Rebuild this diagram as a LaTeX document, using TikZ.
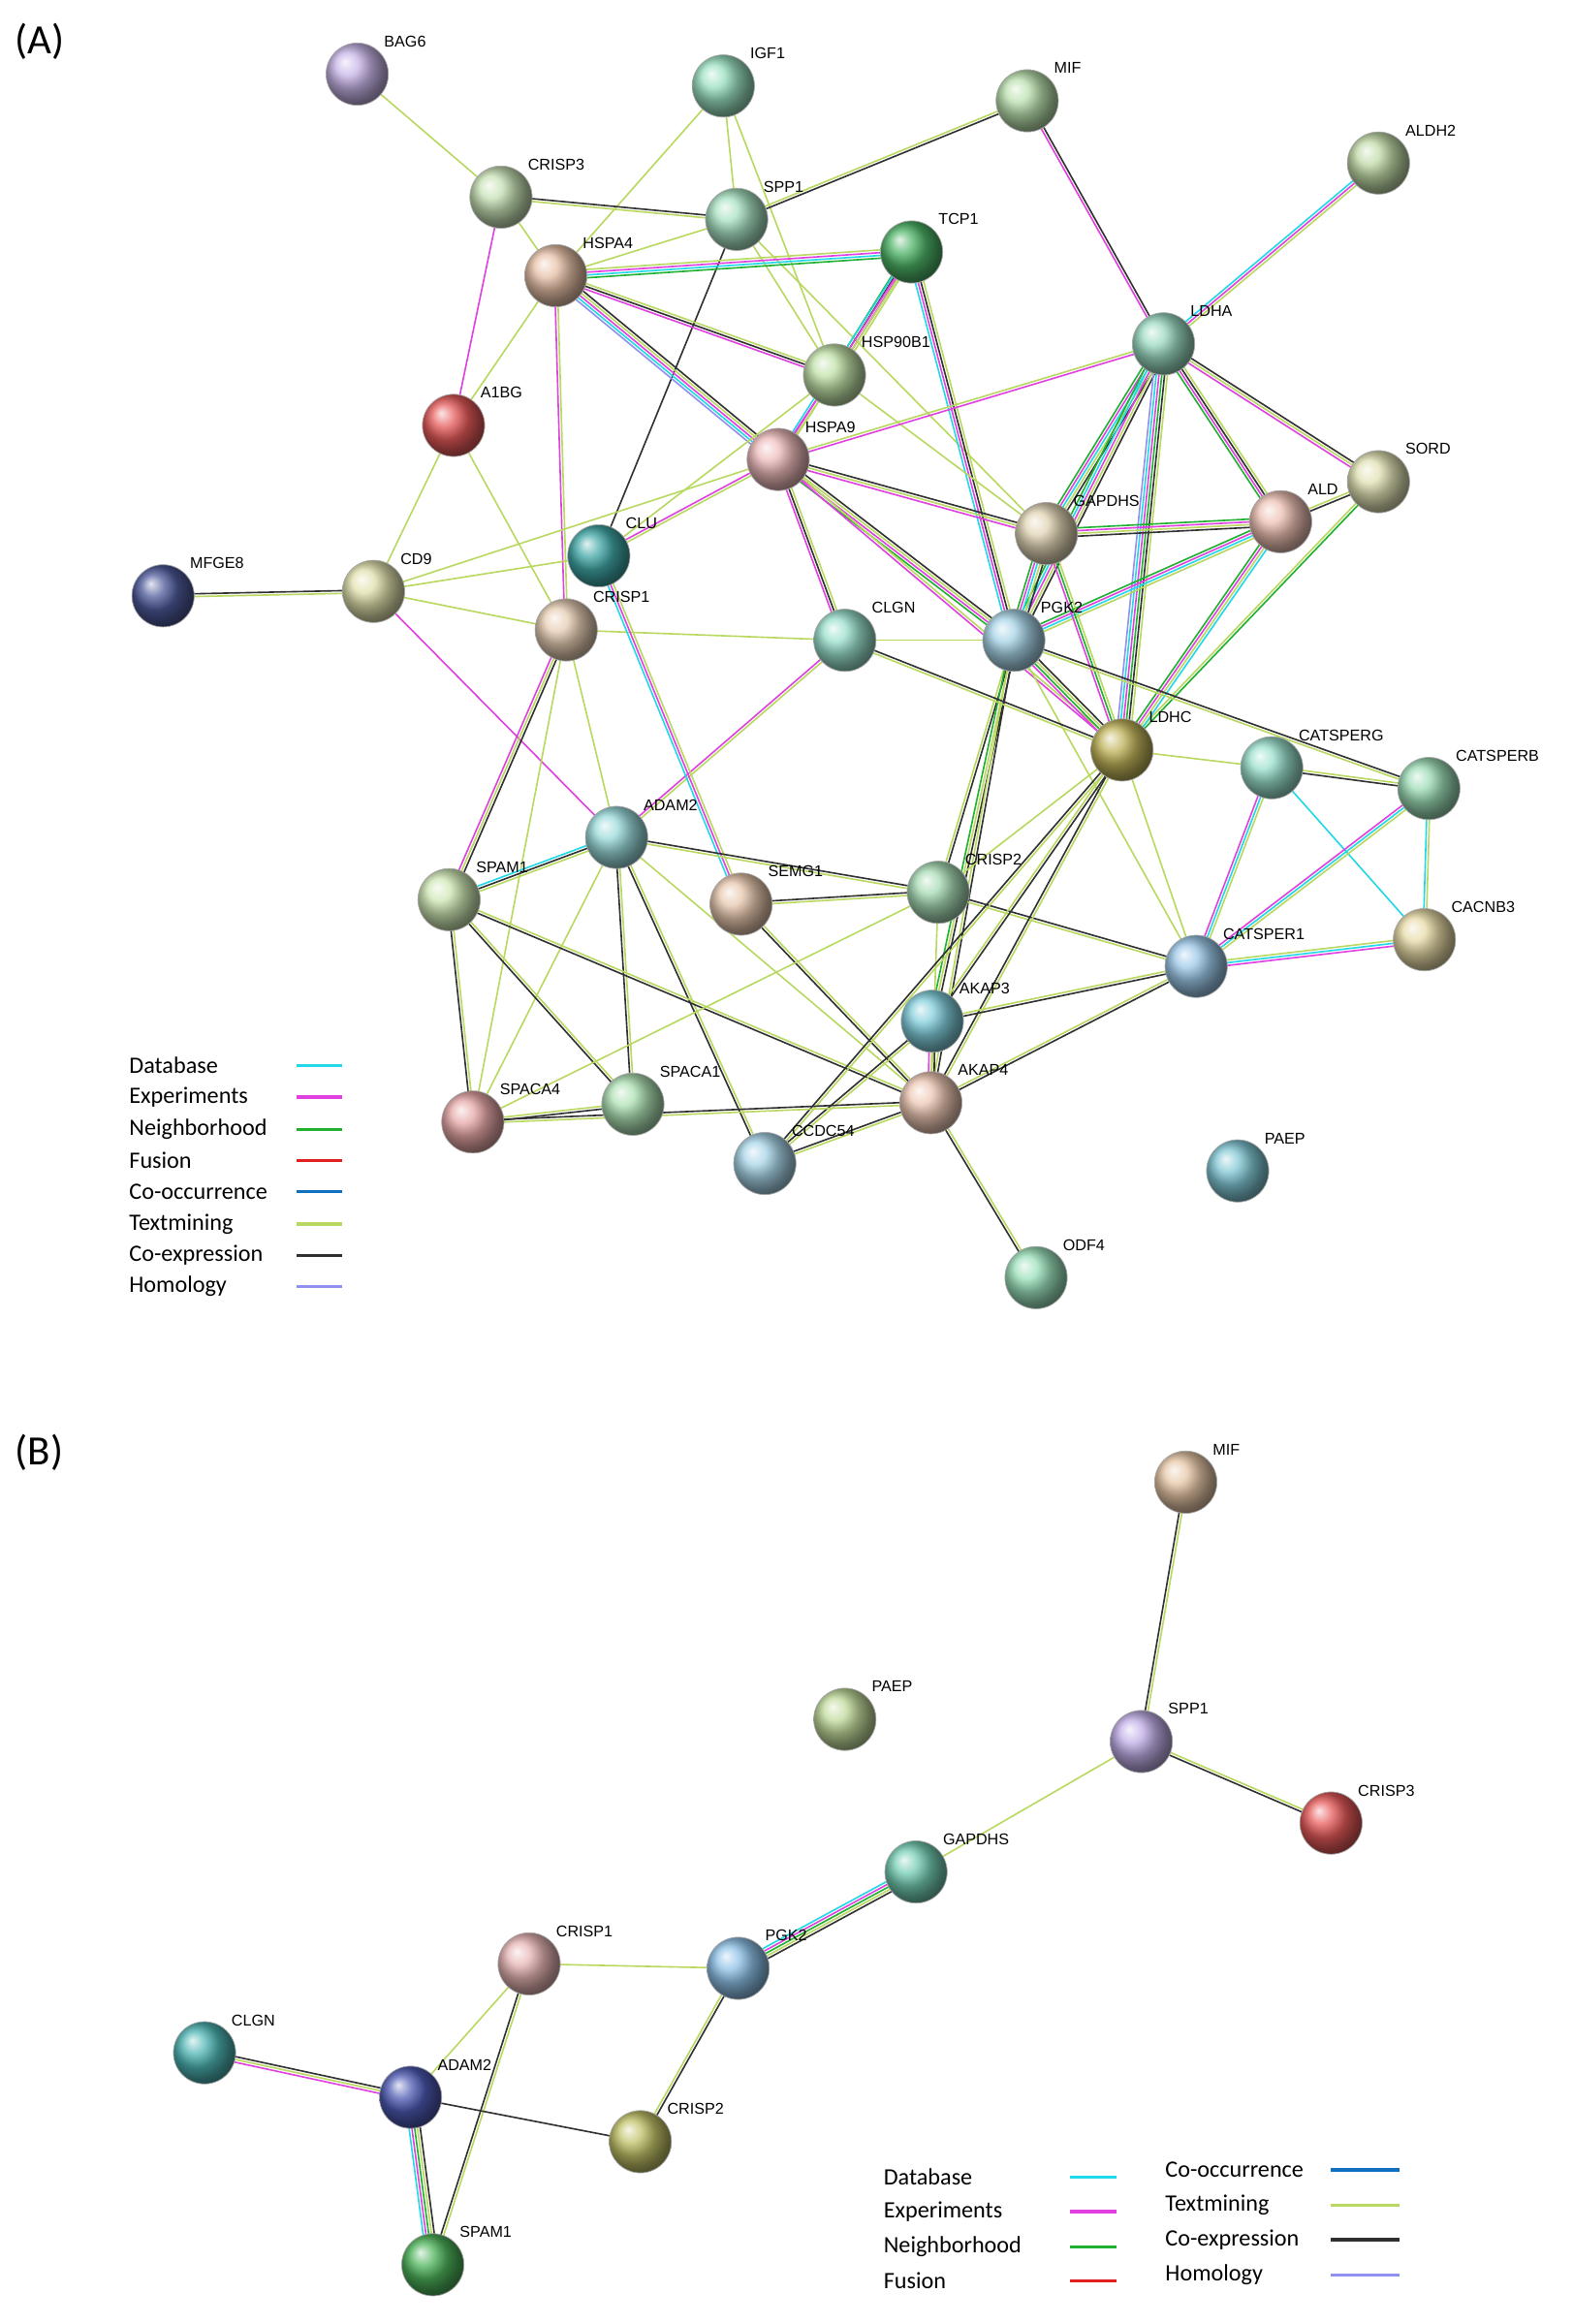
\documentclass[tikz,border=0pt]{standalone}
\usepackage{fontspec}
\setmainfont{Liberation Sans}
\newfontfamily\legf{Carlito}
\usetikzlibrary{calc}
\pgfdeclarelayer{bg}\pgfsetlayers{bg,main}
\definecolor{db}{HTML}{20D8E8}
\definecolor{ex}{HTML}{E040E0}
\definecolor{nb}{HTML}{20B030}
\definecolor{fu}{HTML}{E02020}
\definecolor{co}{HTML}{1070C0}
\definecolor{tm}{HTML}{B8D860}
\definecolor{cx}{HTML}{303030}
\definecolor{ho}{HTML}{9090F0}
\newcount\edcount
\newcommand\ed[3]{\global\edcount=0 \foreach \cc in {#3}{\global\advance\edcount by 1}%
 \foreach \cc [count=\i] in {#3}{\pgfmathsetmacro\off{(\i-(\the\edcount+1)/2)*1.6}%
 \begin{pgfonlayer}{bg}\draw[draw=\cc,line width=0.9pt] ($(#1)!\off pt!90:(#2)$) -- ($(#2)!\off pt!-90:(#1)$);\end{pgfonlayer}}}
\newcommand\pn[5]{\definecolor{c#1}{HTML}{#4}\node[ballnode,ball color=c#1!80!white] (#1) at (#2,#3) {};
 \node[lab] (#1l) at ($(#1)+(18,-22)$) {#5};}
\tikzset{ballnode/.style={circle,minimum size=1.26cm,inner sep=0pt,draw=black!35,line width=0.4pt},
 lab/.style={anchor=west,font=\fontsize{9}{10}\selectfont,inner sep=0pt},
 leg/.style={anchor=west,font=\legf\fontsize{13.5}{14}\selectfont,inner sep=0pt},
 legl/.style={line width=2pt}}
\begin{document}
\begin{tikzpicture}[x=0.03cm,y=-0.03cm]
\useasboundingbox (0,0) rectangle (1061,1568);
\node[leg,font=\legf\fontsize{24}{26}\selectfont] (pA) at (10,28) {(A)};
\node[leg,font=\legf\fontsize{24}{26}\selectfont] (pB) at (10,980) {(B)};
% Panel A nodes
\pn{aBAG6}{241}{50}{B8A0E0}{BAG6}
\pn{aIGF1}{488}{58}{80D8B0}{IGF1}
\pn{aMIF}{693}{68}{A8D898}{MIF}
\pn{aALDH2}{930}{110}{B0D090}{ALDH2}
\pn{aCRISP3}{338}{133}{B8D8A0}{CRISP3}
\pn{aSPP1}{497}{148}{90D8B0}{SPP1}
\pn{aTCP1}{615}{170}{20A040}{TCP1}
\pn{aHSPA4}{375}{186}{E0B090}{HSPA4}
\pn{aLDHA}{785}{232}{80D0B0}{LDHA}
\pn{aHSP90B1}{563}{253}{B0D890}{HSP90B1}
\pn{aA1BG}{306}{287}{E03030}{A1BG}
\pn{aHSPA9}{525}{310}{E8A8A8}{HSPA9}
\pn{aSORD}{930}{325}{D8D8A0}{SORD}
\pn{aALD}{864}{352}{E8B0A0}{ALD}
\pn{aGAPDHS}{706}{360}{D8C8A0}{GAPDHS}
\pn{aCLU}{404}{375}{109090}{CLU}
\pn{aMFGE8}{110}{402}{203080}{MFGE8}
\pn{aCD9}{252}{399}{D8D898}{CD9}
\pn{aCRISP1}{382}{425}{E0C0A0}{CRISP1}
\pn{aCLGN}{570}{432}{80D8C0}{CLGN}
\pn{aPGK2}{684}{432}{90C8E0}{PGK2}
\pn{aLDHC}{757}{506}{B0A030}{LDHC}
\pn{aCATSPERG}{858}{518}{80D8C0}{CATSPERG}
\pn{aCATSPERB}{964}{532}{80D0A0}{CATSPERB}
\pn{aADAM2}{416}{565}{80D0D0}{ADAM2}
\pn{aSPAM1}{303}{607}{C0E0A0}{SPAM1}
\pn{aSEMG1}{500}{610}{E0B898}{SEMG1}
\pn{aCRISP2}{633}{602}{90D0A0}{CRISP2}
\pn{aCACNB3}{961}{634}{E0D090}{CACNB3}
\pn{aCATSPER1}{807}{652}{80B8E0}{CATSPER1}
\pn{aAKAP3}{629}{689}{60C0D0}{AKAP3}
\pn{aSPACA4}{319}{757}{E09090}{SPACA4}
\pn{aSPACA1}{427}{745}{98D8A0}{SPACA1}
\pn{aAKAP4}{628}{744}{E8B8A0}{AKAP4}
\pn{aCCDC54}{516}{785}{90C8E0}{CCDC54}
\pn{aPAEP}{835}{790}{60B8C8}{PAEP}
\pn{aODF4}{699}{862}{80D8A8}{ODF4}
% Panel A edges
\ed{aBAG6}{aCRISP3}{tm}
\ed{aIGF1}{aSPP1}{tm}
\ed{aIGF1}{aHSPA4}{tm}
\ed{aIGF1}{aHSP90B1}{tm}
\ed{aMIF}{aSPP1}{tm,cx}
\ed{aMIF}{aLDHA}{ex,cx}
\ed{aALDH2}{aLDHA}{db,ex,tm}
\ed{aCRISP3}{aSPP1}{tm,cx}
\ed{aCRISP3}{aHSPA4}{tm}
\ed{aCRISP3}{aA1BG}{ex}
\ed{aSPP1}{aHSPA4}{tm}
\ed{aSPP1}{aCLU}{cx}
\ed{aSPP1}{aHSP90B1}{tm}
\ed{aSPP1}{aGAPDHS}{tm}
\ed{aHSPA4}{aTCP1}{nb,db,ex,tm}
\ed{aHSPA4}{aHSP90B1}{ex,cx,tm}
\ed{aHSPA4}{aHSPA9}{ho,db,ex,tm,cx}
\ed{aHSPA4}{aA1BG}{tm}
\ed{aHSPA4}{aCRISP1}{ex,tm}
\ed{aTCP1}{aHSP90B1}{nb,cx,ex,tm}
\ed{aTCP1}{aHSPA9}{db,ex,tm}
\ed{aTCP1}{aPGK2}{db,ex,cx,tm}
\ed{aHSP90B1}{aHSPA9}{ex,tm}
\ed{aHSP90B1}{aGAPDHS}{tm}
\ed{aHSP90B1}{aCLU}{tm}
\ed{aHSPA9}{aLDHA}{ex,tm}
\ed{aHSPA9}{aGAPDHS}{ex,tm,cx}
\ed{aHSPA9}{aCLGN}{ex,cx,tm}
\ed{aHSPA9}{aPGK2}{nb,ex,tm,cx}
\ed{aHSPA9}{aCLU}{ex,tm}
\ed{aHSPA9}{aLDHC}{ex,tm}
\ed{aLDHA}{aGAPDHS}{nb,ex,db,tm,cx}
\ed{aLDHA}{aPGK2}{nb,db,ex,tm,cx}
\ed{aLDHA}{aLDHC}{ho,db,ex,nb,cx,tm}
\ed{aLDHA}{aALD}{nb,ex,cx,tm}
\ed{aLDHA}{aSORD}{ex,tm,cx}
\ed{aSORD}{aALD}{tm,cx}
\ed{aSORD}{aLDHC}{tm,nb}
\ed{aALD}{aGAPDHS}{nb,ex,tm,cx}
\ed{aALD}{aPGK2}{nb,ex,db,tm}
\ed{aALD}{aLDHC}{nb,ex,tm,db}
\ed{aGAPDHS}{aPGK2}{nb,ex,db,tm,cx}
\ed{aGAPDHS}{aLDHC}{ex,nb,tm}
\ed{aPGK2}{aLDHC}{ex,nb,tm,cx}
\ed{aPGK2}{aCLGN}{tm}
\ed{aPGK2}{aCRISP2}{tm,cx}
\ed{aPGK2}{aAKAP3}{nb,tm,cx}
\ed{aPGK2}{aAKAP4}{tm,cx}
\ed{aPGK2}{aCATSPERB}{tm,cx}
\ed{aPGK2}{aCATSPER1}{tm}
\ed{aCLGN}{aADAM2}{ex,tm}
\ed{aCLGN}{aLDHC}{tm,cx}
\ed{aCRISP1}{aCLGN}{tm}
\ed{aCD9}{aMFGE8}{cx,tm}
\ed{aCD9}{aA1BG}{tm}
\ed{aCD9}{aHSPA9}{tm}
\ed{aCD9}{aADAM2}{ex}
\ed{aCD9}{aCRISP1}{tm}
\ed{aCD9}{aCLU}{tm}
\ed{aA1BG}{aCRISP1}{tm}
\ed{aCLU}{aSEMG1}{db,ex,tm}
\ed{aCRISP1}{aSPAM1}{ex,tm,cx}
\ed{aCRISP1}{aADAM2}{tm}
\ed{aCRISP1}{aSPACA4}{tm}
\ed{aADAM2}{aSPAM1}{db,cx,tm}
\ed{aADAM2}{aCRISP2}{tm,cx}
\ed{aADAM2}{aSPACA4}{tm}
\ed{aADAM2}{aSPACA1}{cx,tm}
\ed{aADAM2}{aCCDC54}{cx,tm}
\ed{aADAM2}{aAKAP4}{tm}
\ed{aSPAM1}{aSPACA4}{cx,tm}
\ed{aSPAM1}{aSPACA1}{cx,tm}
\ed{aSPAM1}{aAKAP4}{cx,tm}
\ed{aSEMG1}{aCRISP2}{tm,cx}
\ed{aSEMG1}{aAKAP4}{cx,tm}
\ed{aCRISP2}{aLDHC}{tm}
\ed{aCRISP2}{aCATSPER1}{tm,cx}
\ed{aCRISP2}{aAKAP4}{tm}
\ed{aCRISP2}{aSPACA4}{tm}
\ed{aLDHC}{aAKAP3}{tm,cx}
\ed{aLDHC}{aAKAP4}{cx,tm}
\ed{aLDHC}{aCATSPERG}{tm}
\ed{aLDHC}{aCATSPER1}{tm}
\ed{aLDHC}{aCCDC54}{cx,tm}
\ed{aCATSPERG}{aCATSPERB}{cx,tm}
\ed{aCATSPERG}{aCATSPER1}{ex,db,tm}
\ed{aCATSPERG}{aCACNB3}{db}
\ed{aCATSPERB}{aCATSPER1}{ex,db,tm}
\ed{aCATSPERB}{aCACNB3}{db,tm}
\ed{aCATSPER1}{aCACNB3}{ex,db,tm}
\ed{aCATSPER1}{aAKAP3}{tm,cx}
\ed{aCATSPER1}{aAKAP4}{tm,cx}
\ed{aAKAP3}{aAKAP4}{ex,tm,cx}
\ed{aAKAP3}{aCCDC54}{cx,tm}
\ed{aAKAP4}{aSPACA4}{cx,tm}
\ed{aAKAP4}{aCCDC54}{cx,tm}
\ed{aAKAP4}{aODF4}{cx,tm}
\ed{aSPACA4}{aSPACA1}{cx,tm}
% Legend A
\foreach \t/\c/\y in {Database/db/719,Experiments/ex/740,Neighborhood/nb/762,Fusion/fu/783,Co-occurrence/co/804,Textmining/tm/826,Co-expression/cx/847,Homology/ho/868}{
 \node[leg] (la\c) at (87,\y) {\t};
 \coordinate (la\c1) at (200,\y); \coordinate (la\c2) at (231,\y);
 \draw[legl,draw=\c] (la\c1) -- (la\c2);}
% Panel B nodes
\pn{bMIF}{800}{1000}{E0B890}{MIF}
\pn{bPAEP}{570}{1160}{B0D080}{PAEP}
\pn{bSPP1}{770}{1175}{B098E0}{SPP1}
\pn{bCRISP3}{898}{1230}{E03030}{CRISP3}
\pn{bGAPDHS}{618}{1263}{50C0A0}{GAPDHS}
\pn{bCRISP1}{357}{1325}{E0A0A0}{CRISP1}
\pn{bPGK2}{498}{1328}{70B0E0}{PGK2}
\pn{bCLGN}{138}{1385}{20A0A0}{CLGN}
\pn{bADAM2}{277}{1415}{2030A0}{ADAM2}
\pn{bCRISP2}{432}{1445}{B0B040}{CRISP2}
\pn{bSPAM1}{292}{1528}{20A030}{SPAM1}
\ed{bMIF}{bSPP1}{cx,tm}
\ed{bSPP1}{bCRISP3}{cx,tm}
\ed{bSPP1}{bGAPDHS}{tm}
\ed{bGAPDHS}{bPGK2}{db,ex,nb,tm,cx}
\ed{bPGK2}{bCRISP1}{tm}
\ed{bPGK2}{bCRISP2}{tm,cx}
\ed{bCRISP1}{bADAM2}{tm}
\ed{bCRISP1}{bSPAM1}{cx,tm}
\ed{bCLGN}{bADAM2}{ex,tm,cx}
\ed{bADAM2}{bSPAM1}{db,ex,nb,tm,cx}
\ed{bADAM2}{bCRISP2}{cx}
% Legend B
\foreach \t/\c/\y in {Database/db/1469,Experiments/ex/1492,Neighborhood/nb/1516,Fusion/fu/1539}{
 \node[leg] (lb\c) at (596,\y) {\t};
 \coordinate (lb\c1) at (722,\y); \coordinate (lb\c2) at (753,\y);
 \draw[legl,draw=\c] (lb\c1) -- (lb\c2);}
\foreach \t/\c/\y in {Co-occurrence/co/1464,Textmining/tm/1488,Co-expression/cx/1511,Homology/ho/1535}{
 \node[leg] (lb\c) at (786,\y) {\t};
 \coordinate (lb\c1) at (898,\y); \coordinate (lb\c2) at (944,\y);
 \draw[legl,draw=\c] (lb\c1) -- (lb\c2);}
\end{tikzpicture}
\end{document}
